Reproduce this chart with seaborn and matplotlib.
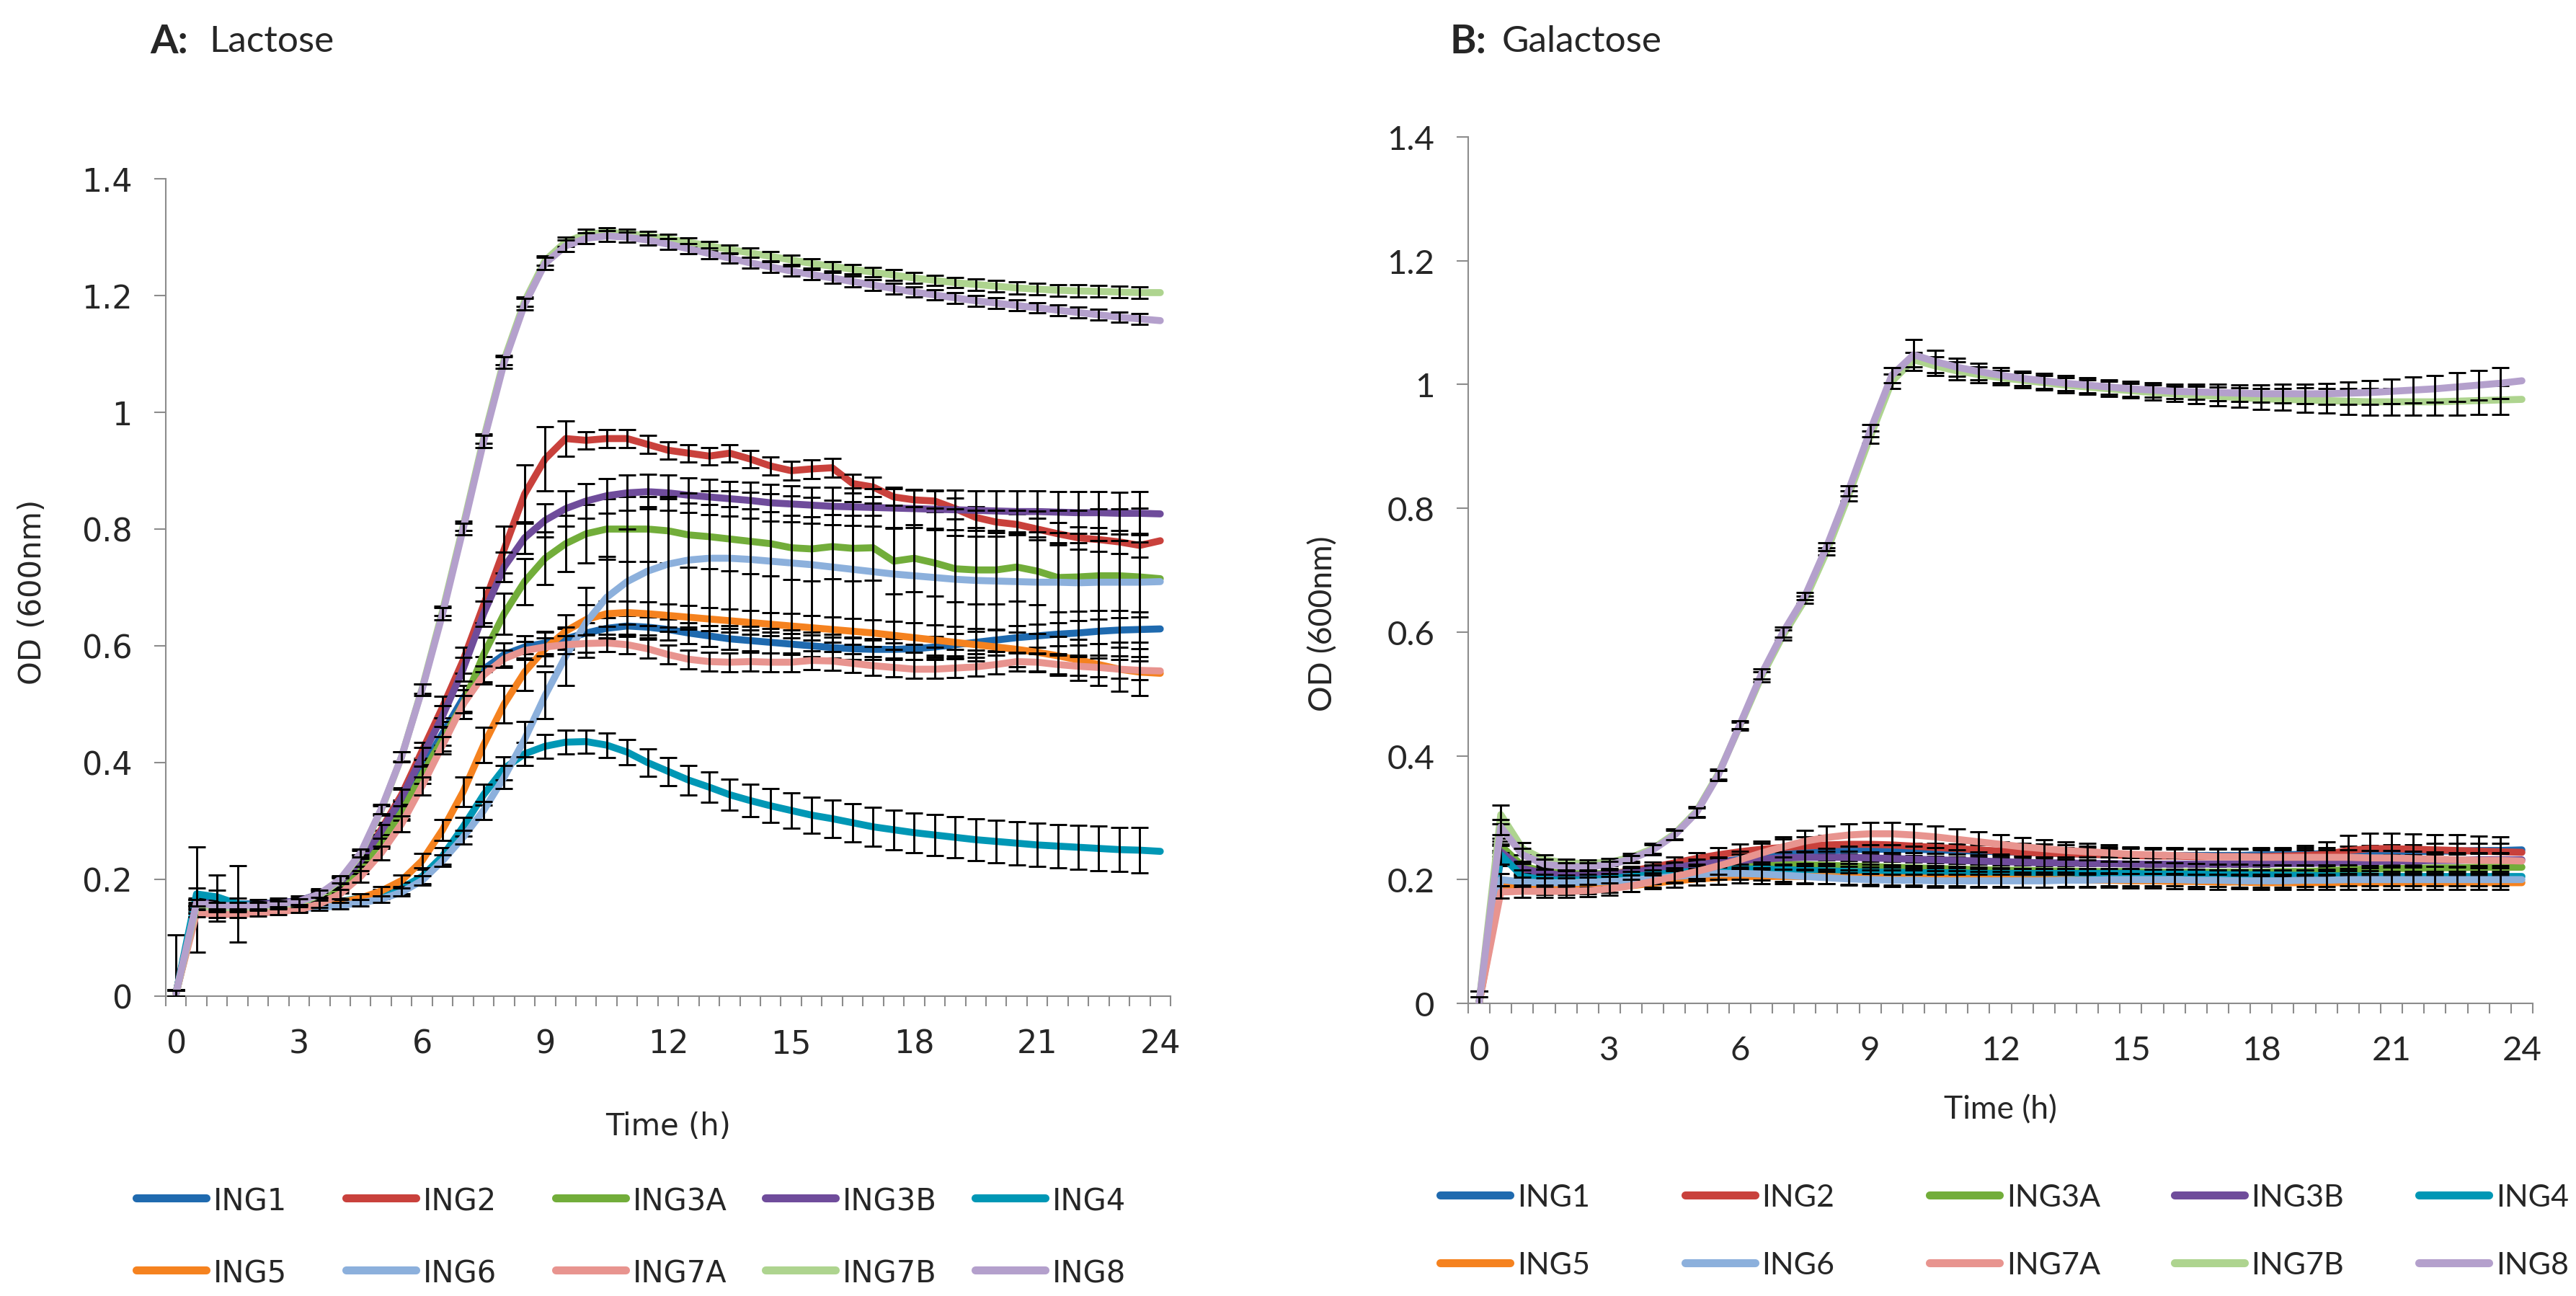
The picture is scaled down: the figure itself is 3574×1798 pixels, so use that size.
"""
Growth curves (OD600) of ING strains on lactose (A) and galactose (B).
Excel-style two-panel figure redrawn with seaborn / matplotlib.
"""
import numpy as np
import pandas as pd
import matplotlib
matplotlib.use("Agg")
import matplotlib.pyplot as plt
from matplotlib.lines import Line2D
import seaborn as sns

# ── data ──────────────────────────────────────────────────────────
HOURS = [0, 0.5, 1, 1.5, 2, 2.5, 3, 3.5, 4, 4.5, 5, 5.5, 6, 6.5, 7, 7.5,
         8, 8.5, 9, 9.5, 10, 10.5, 11, 11.5, 12, 12.5, 13, 13.5, 14, 14.5,
         15, 15.5, 16, 16.5, 17, 17.5, 18, 18.5, 19, 19.5, 20, 20.5, 21,
         21.5, 22, 22.5, 23, 23.5, 24]
STRAINS = ["ING1", "ING2", "ING3A", "ING3B", "ING4",
           "ING5", "ING6", "ING7A", "ING7B", "ING8"]
COLORS = ["#1F6AAF", "#C9413C", "#72AD3A", "#6F4C9B", "#0097B5",
          "#F5821F", "#8CB0DC", "#E8948F", "#AED48F", "#B4A0CC"]
X_TICKS = [0, 3, 6, 9, 12, 15, 18, 21, 24]
Y_TICKS = [0, 0.2, 0.4, 0.6, 0.8, 1.0, 1.2, 1.4]
Y_LABELS = ["0", "0.2", "0.4", "0.6", "0.8", "1", "1.2", "1.4"]

# A: lactose, mean OD
LAC_ING1 = [0.005, 0.165, 0.168, 0.158, 0.158, 0.160, 0.163, 0.175,
            0.195, 0.230, 0.270, 0.320, 0.390, 0.450, 0.510, 0.560,
            0.585, 0.598, 0.605, 0.612, 0.622, 0.630, 0.634, 0.632,
            0.628, 0.622, 0.617, 0.612, 0.609, 0.606, 0.603, 0.600,
            0.597, 0.595, 0.594, 0.594, 0.595, 0.598, 0.602, 0.606,
            0.610, 0.614, 0.617, 0.620, 0.622, 0.625, 0.627, 0.628,
            0.629]
LAC_ING2 = [0.005, 0.160, 0.155, 0.152, 0.153, 0.155, 0.158, 0.168,
            0.188, 0.232, 0.285, 0.345, 0.420, 0.495, 0.575, 0.670,
            0.765, 0.860, 0.920, 0.955, 0.952, 0.955, 0.955, 0.945,
            0.935, 0.930, 0.925, 0.930, 0.920, 0.908, 0.900, 0.903,
            0.905, 0.878, 0.872, 0.855, 0.850, 0.848, 0.835, 0.820,
            0.812, 0.808, 0.800, 0.792, 0.785, 0.782, 0.778, 0.772,
            0.780]
LAC_ING3A = [0.005, 0.150, 0.148, 0.148, 0.150, 0.152, 0.155, 0.165,
             0.185, 0.220, 0.265, 0.315, 0.380, 0.440, 0.500, 0.585,
             0.655, 0.710, 0.750, 0.775, 0.792, 0.800, 0.800, 0.800,
             0.797, 0.790, 0.787, 0.783, 0.779, 0.775, 0.768, 0.766,
             0.770, 0.767, 0.768, 0.745, 0.750, 0.742, 0.732, 0.730,
             0.730, 0.735, 0.728, 0.717, 0.718, 0.720, 0.720, 0.718,
             0.715]
LAC_ING3B = [0.005, 0.160, 0.158, 0.156, 0.157, 0.160, 0.163, 0.175,
             0.195, 0.232, 0.282, 0.340, 0.410, 0.480, 0.560, 0.655,
             0.735, 0.785, 0.815, 0.835, 0.848, 0.857, 0.862, 0.864,
             0.862, 0.858, 0.855, 0.852, 0.849, 0.845, 0.843, 0.841,
             0.839, 0.838, 0.837, 0.836, 0.835, 0.834, 0.833, 0.832,
             0.831, 0.830, 0.830, 0.829, 0.828, 0.828, 0.827, 0.827,
             0.826]
LAC_ING4 = [0.005, 0.175, 0.170, 0.158, 0.155, 0.155, 0.155, 0.158,
            0.162, 0.168, 0.175, 0.185, 0.205, 0.240, 0.290, 0.345,
            0.390, 0.415, 0.428, 0.435, 0.436, 0.430, 0.418, 0.400,
            0.385, 0.370, 0.358, 0.345, 0.335, 0.326, 0.318, 0.310,
            0.304, 0.297, 0.290, 0.285, 0.280, 0.276, 0.272, 0.268,
            0.265, 0.262, 0.259, 0.257, 0.255, 0.253, 0.251, 0.250,
            0.248]
LAC_ING5 = [0.005, 0.150, 0.148, 0.147, 0.148, 0.150, 0.152, 0.155,
            0.160, 0.168, 0.180, 0.198, 0.232, 0.285, 0.350, 0.430,
            0.500, 0.555, 0.595, 0.625, 0.645, 0.655, 0.657, 0.655,
            0.652, 0.649, 0.646, 0.643, 0.640, 0.637, 0.634, 0.631,
            0.628, 0.625, 0.622, 0.618, 0.614, 0.610, 0.606, 0.602,
            0.598, 0.594, 0.589, 0.583, 0.576, 0.568, 0.560, 0.555,
            0.553]
LAC_ING6 = [0.005, 0.148, 0.147, 0.146, 0.147, 0.148, 0.150, 0.152,
            0.155, 0.160, 0.166, 0.178, 0.198, 0.232, 0.272, 0.318,
            0.375, 0.440, 0.515, 0.582, 0.640, 0.683, 0.710, 0.728,
            0.740, 0.747, 0.750, 0.750, 0.748, 0.745, 0.742, 0.739,
            0.735, 0.731, 0.727, 0.723, 0.720, 0.717, 0.714, 0.712,
            0.711, 0.710, 0.709, 0.709, 0.708, 0.709, 0.709, 0.709,
            0.710]
LAC_ING7A = [0.005, 0.142, 0.140, 0.140, 0.142, 0.145, 0.148, 0.158,
             0.175, 0.205, 0.245, 0.295, 0.360, 0.430, 0.500, 0.550,
             0.578, 0.592, 0.598, 0.602, 0.604, 0.605, 0.602, 0.595,
             0.585, 0.577, 0.573, 0.572, 0.573, 0.572, 0.572, 0.575,
             0.574, 0.570, 0.566, 0.563, 0.560, 0.560, 0.562, 0.564,
             0.568, 0.573, 0.572, 0.568, 0.565, 0.563, 0.560, 0.558,
             0.557]
LAC_ING7B = [0.005, 0.155, 0.152, 0.152, 0.153, 0.156, 0.160, 0.173,
             0.198, 0.243, 0.318, 0.410, 0.527, 0.660, 0.805, 0.955,
             1.090, 1.190, 1.260, 1.292, 1.305, 1.308, 1.306, 1.302,
             1.297, 1.291, 1.285, 1.279, 1.273, 1.267, 1.261, 1.255,
             1.250, 1.245, 1.240, 1.235, 1.230, 1.226, 1.222, 1.219,
             1.216, 1.213, 1.211, 1.209, 1.208, 1.207, 1.206, 1.205,
             1.205]
LAC_ING8 = [0.005, 0.160, 0.155, 0.155, 0.155, 0.158, 0.162, 0.175,
            0.200, 0.245, 0.320, 0.410, 0.525, 0.655, 0.800, 0.950,
            1.085, 1.185, 1.255, 1.285, 1.298, 1.302, 1.300, 1.295,
            1.288, 1.280, 1.272, 1.264, 1.256, 1.249, 1.242, 1.236,
            1.230, 1.224, 1.218, 1.212, 1.206, 1.201, 1.196, 1.191,
            1.187, 1.183, 1.179, 1.175, 1.171, 1.167, 1.163, 1.160,
            1.157]

# A: lactose, standard deviation (0 .. 23.5 h; no bar at 24 h)
SD_LAC_ING1 = [0.100, 0.090, 0.040, 0.065, 0.008, 0.008, 0.008, 0.009,
               0.010, 0.012, 0.014, 0.016, 0.018, 0.020, 0.022, 0.022,
               0.020, 0.019, 0.018, 0.018, 0.018, 0.018, 0.018, 0.018,
               0.018, 0.018, 0.018, 0.018, 0.018, 0.018, 0.018, 0.018,
               0.018, 0.018, 0.018, 0.018, 0.018, 0.018, 0.019, 0.019,
               0.019, 0.020, 0.020, 0.020, 0.021, 0.021, 0.021, 0.022]
SD_LAC_ING2 = [0.006, 0.008, 0.006, 0.006, 0.005, 0.005, 0.005, 0.006,
               0.008, 0.010, 0.012, 0.012, 0.015, 0.018, 0.022, 0.030,
               0.040, 0.050, 0.055, 0.030, 0.015, 0.015, 0.015, 0.015,
               0.015, 0.015, 0.015, 0.015, 0.015, 0.015, 0.016, 0.016,
               0.016, 0.016, 0.017, 0.017, 0.017, 0.018, 0.018, 0.018,
               0.018, 0.018, 0.019, 0.019, 0.019, 0.020, 0.020, 0.020]
SD_LAC_ING3A = [0.006, 0.006, 0.006, 0.005, 0.005, 0.005, 0.005, 0.006,
                0.008, 0.010, 0.012, 0.014, 0.016, 0.020, 0.025, 0.030,
                0.035, 0.040, 0.045, 0.048, 0.050, 0.052, 0.055, 0.055,
                0.055, 0.055, 0.055, 0.055, 0.055, 0.055, 0.055, 0.055,
                0.055, 0.056, 0.056, 0.056, 0.057, 0.057, 0.057, 0.058,
                0.058, 0.058, 0.058, 0.059, 0.059, 0.060, 0.060, 0.060]
SD_LAC_ING3B = [0.006, 0.006, 0.006, 0.005, 0.005, 0.005, 0.005, 0.006,
                0.008, 0.010, 0.012, 0.014, 0.016, 0.018, 0.020, 0.022,
                0.025, 0.027, 0.028, 0.030, 0.030, 0.030, 0.030, 0.030,
                0.030, 0.030, 0.030, 0.030, 0.031, 0.031, 0.031, 0.031,
                0.032, 0.032, 0.032, 0.033, 0.033, 0.033, 0.034, 0.034,
                0.034, 0.035, 0.035, 0.035, 0.036, 0.036, 0.036, 0.037]
SD_LAC_ING4 = [0.006, 0.010, 0.012, 0.010, 0.006, 0.006, 0.006, 0.006,
               0.006, 0.007, 0.008, 0.010, 0.012, 0.014, 0.016, 0.018,
               0.020, 0.020, 0.020, 0.020, 0.020, 0.021, 0.022, 0.023,
               0.024, 0.025, 0.026, 0.027, 0.028, 0.029, 0.030, 0.031,
               0.032, 0.033, 0.033, 0.034, 0.034, 0.035, 0.035, 0.036,
               0.036, 0.037, 0.037, 0.037, 0.038, 0.038, 0.038, 0.039]
SD_LAC_ING5 = [0.005, 0.008, 0.006, 0.005, 0.005, 0.005, 0.005, 0.005,
               0.006, 0.007, 0.008, 0.010, 0.012, 0.018, 0.025, 0.030,
               0.032, 0.032, 0.030, 0.028, 0.025, 0.022, 0.020, 0.020,
               0.020, 0.020, 0.020, 0.020, 0.020, 0.020, 0.021, 0.021,
               0.022, 0.022, 0.023, 0.024, 0.025, 0.026, 0.027, 0.028,
               0.029, 0.030, 0.032, 0.033, 0.035, 0.036, 0.038, 0.040]
SD_LAC_ING6 = [0.005, 0.006, 0.005, 0.005, 0.005, 0.005, 0.005, 0.005,
               0.005, 0.006, 0.006, 0.007, 0.008, 0.010, 0.012, 0.015,
               0.020, 0.030, 0.040, 0.050, 0.060, 0.070, 0.090, 0.110,
               0.115, 0.115, 0.115, 0.115, 0.115, 0.115, 0.115, 0.115,
               0.115, 0.116, 0.117, 0.118, 0.118, 0.119, 0.120, 0.120,
               0.121, 0.122, 0.122, 0.123, 0.124, 0.125, 0.126, 0.127]
SD_LAC_ING7A = [0.005, 0.006, 0.005, 0.005, 0.005, 0.005, 0.005, 0.006,
                0.008, 0.010, 0.012, 0.014, 0.015, 0.015, 0.015, 0.015,
                0.015, 0.015, 0.015, 0.015, 0.015, 0.015, 0.016, 0.016,
                0.016, 0.016, 0.016, 0.016, 0.016, 0.016, 0.016, 0.016,
                0.016, 0.016, 0.016, 0.016, 0.016, 0.016, 0.016, 0.016,
                0.016, 0.016, 0.016, 0.016, 0.016, 0.016, 0.016, 0.016]
SD_LAC_ING7B = [0.005, 0.005, 0.005, 0.005, 0.005, 0.005, 0.005, 0.005,
                0.006, 0.007, 0.008, 0.008, 0.008, 0.008, 0.008, 0.008,
                0.008, 0.008, 0.008, 0.008, 0.008, 0.008, 0.008, 0.008,
                0.008, 0.008, 0.008, 0.008, 0.008, 0.008, 0.008, 0.008,
                0.008, 0.008, 0.008, 0.009, 0.009, 0.009, 0.009, 0.010,
                0.010, 0.010, 0.010, 0.010, 0.010, 0.010, 0.010, 0.010]
SD_LAC_ING8 = [0.005, 0.006, 0.005, 0.005, 0.005, 0.005, 0.005, 0.006,
               0.006, 0.007, 0.008, 0.009, 0.010, 0.010, 0.010, 0.010,
               0.010, 0.010, 0.010, 0.010, 0.009, 0.009, 0.009, 0.009,
               0.009, 0.009, 0.009, 0.009, 0.009, 0.009, 0.009, 0.009,
               0.009, 0.009, 0.009, 0.009, 0.009, 0.009, 0.009, 0.009,
               0.009, 0.009, 0.009, 0.009, 0.009, 0.009, 0.009, 0.009]

# B: galactose, mean OD
GAL_ING1 = [0.000, 0.235, 0.215, 0.208, 0.205, 0.204, 0.205, 0.208,
            0.213, 0.218, 0.223, 0.228, 0.233, 0.237, 0.241, 0.244,
            0.246, 0.248, 0.249, 0.249, 0.249, 0.248, 0.247, 0.246,
            0.245, 0.244, 0.243, 0.242, 0.241, 0.240, 0.240, 0.239,
            0.239, 0.239, 0.239, 0.239, 0.240, 0.240, 0.241, 0.242,
            0.243, 0.244, 0.245, 0.245, 0.246, 0.246, 0.247, 0.247,
            0.248]
GAL_ING2 = [0.000, 0.250, 0.215, 0.207, 0.205, 0.206, 0.209, 0.214,
            0.220, 0.227, 0.234, 0.240, 0.245, 0.249, 0.252, 0.254,
            0.256, 0.257, 0.257, 0.256, 0.254, 0.252, 0.250, 0.248,
            0.246, 0.244, 0.243, 0.242, 0.241, 0.240, 0.239, 0.238,
            0.238, 0.237, 0.237, 0.237, 0.237, 0.238, 0.239, 0.241,
            0.247, 0.250, 0.250, 0.249, 0.248, 0.247, 0.246, 0.245,
            0.244]
GAL_ING3A = [0.000, 0.255, 0.222, 0.213, 0.210, 0.209, 0.210, 0.212,
             0.215, 0.218, 0.221, 0.223, 0.224, 0.225, 0.225, 0.224,
             0.223, 0.222, 0.221, 0.220, 0.219, 0.218, 0.217, 0.216,
             0.215, 0.215, 0.214, 0.214, 0.213, 0.213, 0.213, 0.212,
             0.212, 0.212, 0.212, 0.212, 0.212, 0.213, 0.213, 0.214,
             0.216, 0.217, 0.218, 0.218, 0.219, 0.219, 0.220, 0.220,
             0.220]
GAL_ING3B = [0.000, 0.245, 0.218, 0.210, 0.207, 0.207, 0.209, 0.212,
             0.216, 0.220, 0.224, 0.228, 0.231, 0.233, 0.235, 0.236,
             0.236, 0.236, 0.235, 0.234, 0.233, 0.232, 0.231, 0.230,
             0.229, 0.228, 0.227, 0.227, 0.226, 0.226, 0.225, 0.225,
             0.225, 0.225, 0.225, 0.225, 0.225, 0.226, 0.226, 0.227,
             0.228, 0.229, 0.230, 0.230, 0.231, 0.231, 0.232, 0.232,
             0.232]
GAL_ING4 = [0.000, 0.240, 0.205, 0.200, 0.199, 0.200, 0.202, 0.205,
            0.208, 0.211, 0.214, 0.216, 0.217, 0.217, 0.216, 0.215,
            0.214, 0.213, 0.212, 0.212, 0.211, 0.211, 0.211, 0.210,
            0.210, 0.210, 0.210, 0.210, 0.210, 0.210, 0.210, 0.209,
            0.209, 0.209, 0.208, 0.208, 0.208, 0.207, 0.207, 0.206,
            0.206, 0.206, 0.205, 0.205, 0.205, 0.205, 0.205, 0.205,
            0.205]
GAL_ING5 = [0.000, 0.190, 0.186, 0.184, 0.184, 0.185, 0.187, 0.190,
            0.194, 0.198, 0.201, 0.203, 0.205, 0.205, 0.205, 0.205,
            0.205, 0.204, 0.204, 0.203, 0.203, 0.202, 0.202, 0.201,
            0.201, 0.200, 0.200, 0.200, 0.199, 0.199, 0.198, 0.198,
            0.197, 0.197, 0.196, 0.196, 0.195, 0.195, 0.195, 0.195,
            0.195, 0.195, 0.195, 0.195, 0.195, 0.195, 0.195, 0.195,
            0.195]
GAL_ING6 = [0.000, 0.200, 0.196, 0.195, 0.195, 0.196, 0.197, 0.199,
            0.202, 0.205, 0.208, 0.210, 0.210, 0.209, 0.207, 0.205,
            0.203, 0.201, 0.200, 0.199, 0.199, 0.198, 0.198, 0.198,
            0.198, 0.198, 0.198, 0.199, 0.199, 0.200, 0.200, 0.200,
            0.200, 0.199, 0.199, 0.198, 0.198, 0.198, 0.199, 0.199,
            0.200, 0.200, 0.200, 0.200, 0.200, 0.200, 0.200, 0.200,
            0.200]
GAL_ING7A = [0.000, 0.180, 0.181, 0.181, 0.181, 0.182, 0.185, 0.190,
             0.197, 0.205, 0.213, 0.222, 0.232, 0.243, 0.253, 0.262,
             0.268, 0.272, 0.274, 0.274, 0.272, 0.269, 0.265, 0.261,
             0.257, 0.253, 0.250, 0.247, 0.245, 0.243, 0.241, 0.240,
             0.239, 0.238, 0.237, 0.237, 0.236, 0.236, 0.236, 0.236,
             0.236, 0.235, 0.235, 0.234, 0.233, 0.232, 0.231, 0.231,
             0.230]
GAL_ING7B = [0.000, 0.305, 0.250, 0.232, 0.227, 0.226, 0.228, 0.236,
             0.250, 0.274, 0.310, 0.370, 0.448, 0.528, 0.595, 0.652,
             0.730, 0.820, 0.915, 1.005, 1.040, 1.030, 1.022, 1.016,
             1.011, 1.007, 1.003, 0.999, 0.996, 0.993, 0.990, 0.987,
             0.985, 0.983, 0.981, 0.979, 0.977, 0.976, 0.975, 0.974,
             0.973, 0.972, 0.972, 0.972, 0.972, 0.973, 0.974, 0.975,
             0.976]
GAL_ING8 = [0.000, 0.285, 0.240, 0.225, 0.221, 0.221, 0.224, 0.233,
            0.248, 0.272, 0.308, 0.368, 0.450, 0.532, 0.600, 0.658,
            0.738, 0.828, 0.925, 1.015, 1.048, 1.037, 1.028, 1.021,
            1.015, 1.010, 1.006, 1.002, 0.999, 0.996, 0.993, 0.991,
            0.989, 0.988, 0.987, 0.986, 0.985, 0.985, 0.985, 0.985,
            0.986, 0.987, 0.989, 0.991, 0.993, 0.996, 0.999, 1.002,
            1.006]

# B: galactose, standard deviation (0 .. 23.5 h)
SD_GAL_ING1 = [0.020, 0.012, 0.008, 0.006, 0.006, 0.006, 0.006, 0.006,
               0.007, 0.007, 0.008, 0.008, 0.008, 0.009, 0.009, 0.009,
               0.010, 0.010, 0.010, 0.010, 0.010, 0.010, 0.010, 0.010,
               0.010, 0.010, 0.010, 0.010, 0.010, 0.010, 0.010, 0.010,
               0.010, 0.010, 0.010, 0.010, 0.010, 0.010, 0.010, 0.010,
               0.011, 0.011, 0.011, 0.011, 0.012, 0.012, 0.012, 0.012]
SD_GAL_ING2 = [0.020, 0.012, 0.008, 0.006, 0.006, 0.006, 0.006, 0.007,
               0.008, 0.009, 0.010, 0.011, 0.012, 0.013, 0.014, 0.015,
               0.015, 0.016, 0.016, 0.016, 0.016, 0.016, 0.015, 0.015,
               0.015, 0.014, 0.014, 0.014, 0.013, 0.013, 0.013, 0.013,
               0.013, 0.013, 0.013, 0.013, 0.014, 0.014, 0.016, 0.020,
               0.024, 0.025, 0.025, 0.025, 0.025, 0.025, 0.024, 0.024]
SD_GAL_ING3A = [0.020, 0.012, 0.008, 0.007, 0.007, 0.007, 0.007, 0.007,
                0.008, 0.008, 0.008, 0.009, 0.009, 0.009, 0.009, 0.009,
                0.009, 0.009, 0.009, 0.009, 0.009, 0.009, 0.009, 0.009,
                0.009, 0.009, 0.009, 0.009, 0.009, 0.009, 0.009, 0.009,
                0.009, 0.009, 0.009, 0.009, 0.009, 0.009, 0.010, 0.010,
                0.010, 0.010, 0.010, 0.010, 0.010, 0.010, 0.010, 0.010]
SD_GAL_ING3B = [0.020, 0.012, 0.008, 0.007, 0.007, 0.007, 0.007, 0.007,
                0.008, 0.008, 0.009, 0.009, 0.010, 0.010, 0.010, 0.010,
                0.010, 0.010, 0.010, 0.010, 0.010, 0.010, 0.010, 0.010,
                0.010, 0.010, 0.010, 0.010, 0.010, 0.010, 0.010, 0.010,
                0.010, 0.010, 0.010, 0.010, 0.010, 0.010, 0.010, 0.010,
                0.010, 0.010, 0.010, 0.010, 0.010, 0.010, 0.010, 0.010]
SD_GAL_ING4 = [0.020, 0.015, 0.010, 0.008, 0.008, 0.008, 0.008, 0.008,
               0.008, 0.008, 0.008, 0.008, 0.008, 0.008, 0.008, 0.008,
               0.008, 0.008, 0.008, 0.008, 0.008, 0.008, 0.008, 0.008,
               0.008, 0.008, 0.008, 0.008, 0.008, 0.008, 0.008, 0.008,
               0.008, 0.008, 0.008, 0.008, 0.008, 0.008, 0.008, 0.008,
               0.008, 0.008, 0.008, 0.008, 0.008, 0.008, 0.008, 0.008]
SD_GAL_ING5 = [0.020, 0.010, 0.008, 0.008, 0.008, 0.008, 0.008, 0.009,
               0.009, 0.010, 0.010, 0.011, 0.011, 0.012, 0.012, 0.012,
               0.012, 0.012, 0.012, 0.012, 0.012, 0.012, 0.012, 0.012,
               0.012, 0.012, 0.012, 0.012, 0.012, 0.012, 0.012, 0.012,
               0.012, 0.012, 0.012, 0.011, 0.011, 0.011, 0.011, 0.011,
               0.011, 0.011, 0.011, 0.011, 0.011, 0.011, 0.011, 0.011]
SD_GAL_ING6 = [0.020, 0.010, 0.008, 0.008, 0.008, 0.008, 0.008, 0.008,
               0.009, 0.009, 0.010, 0.010, 0.010, 0.010, 0.010, 0.010,
               0.010, 0.010, 0.010, 0.010, 0.010, 0.010, 0.010, 0.010,
               0.010, 0.010, 0.010, 0.010, 0.010, 0.010, 0.010, 0.010,
               0.010, 0.010, 0.010, 0.010, 0.010, 0.010, 0.010, 0.010,
               0.010, 0.010, 0.010, 0.010, 0.010, 0.010, 0.010, 0.010]
SD_GAL_ING7A = [0.020, 0.010, 0.010, 0.010, 0.010, 0.010, 0.010, 0.010,
                0.010, 0.011, 0.012, 0.013, 0.014, 0.015, 0.016, 0.017,
                0.018, 0.018, 0.018, 0.018, 0.018, 0.017, 0.017, 0.016,
                0.016, 0.015, 0.014, 0.014, 0.013, 0.013, 0.012, 0.012,
                0.012, 0.012, 0.012, 0.012, 0.012, 0.012, 0.012, 0.012,
                0.012, 0.012, 0.012, 0.012, 0.012, 0.012, 0.012, 0.012]
SD_GAL_ING7B = [0.010, 0.015, 0.010, 0.008, 0.006, 0.006, 0.006, 0.006,
                0.008, 0.008, 0.008, 0.008, 0.006, 0.008, 0.008, 0.006,
                0.006, 0.008, 0.010, 0.012, 0.012, 0.015, 0.015, 0.013,
                0.012, 0.012, 0.012, 0.012, 0.012, 0.012, 0.012, 0.012,
                0.012, 0.014, 0.015, 0.016, 0.017, 0.018, 0.020, 0.020,
                0.021, 0.022, 0.022, 0.022, 0.022, 0.023, 0.023, 0.023]
SD_GAL_ING8 = [0.010, 0.012, 0.010, 0.008, 0.006, 0.006, 0.006, 0.006,
               0.008, 0.008, 0.008, 0.008, 0.006, 0.008, 0.008, 0.006,
               0.006, 0.008, 0.010, 0.012, 0.025, 0.018, 0.015, 0.013,
               0.012, 0.012, 0.012, 0.012, 0.012, 0.012, 0.012, 0.012,
               0.012, 0.012, 0.013, 0.013, 0.014, 0.015, 0.016, 0.017,
               0.018, 0.019, 0.020, 0.021, 0.022, 0.023, 0.024, 0.025]

LACTOSE = [LAC_ING1, LAC_ING2, LAC_ING3A, LAC_ING3B, LAC_ING4,
           LAC_ING5, LAC_ING6, LAC_ING7A, LAC_ING7B, LAC_ING8]
LACTOSE_SD = [SD_LAC_ING1, SD_LAC_ING2, SD_LAC_ING3A, SD_LAC_ING3B, SD_LAC_ING4,
              SD_LAC_ING5, SD_LAC_ING6, SD_LAC_ING7A, SD_LAC_ING7B, SD_LAC_ING8]
GALACTOSE = [GAL_ING1, GAL_ING2, GAL_ING3A, GAL_ING3B, GAL_ING4,
             GAL_ING5, GAL_ING6, GAL_ING7A, GAL_ING7B, GAL_ING8]
GALACTOSE_SD = [SD_GAL_ING1, SD_GAL_ING2, SD_GAL_ING3A, SD_GAL_ING3B, SD_GAL_ING4,
                SD_GAL_ING5, SD_GAL_ING6, SD_GAL_ING7A, SD_GAL_ING7B, SD_GAL_ING8]


def tidy(means, sds):
    """long table: one row per strain x time point"""
    rows = []
    for name, m, s in zip(STRAINS, means, sds):
        assert len(m) == len(HOURS) and len(s) == len(HOURS) - 1, name
        s_full = list(s) + [np.nan]          # Excel shows no bar at 24 h
        rows.append(pd.DataFrame({"hour": HOURS, "od": m, "sd": s_full,
                                  "strain": name}))
    return pd.concat(rows, ignore_index=True)


lac = tidy(LACTOSE, LACTOSE_SD)
gal = tidy(GALACTOSE, GALACTOSE_SD)

# ── figure ────────────────────────────────────────────────────────
W, H = 3574, 1799
sns.set_style("white")
plt.rcParams["font.family"] = ["DejaVu Sans"]
AXIS_GREY = "#8C8C8C"

fig = plt.figure(figsize=(W / 100, H / 100), dpi=100)
axA = fig.add_axes([230 / W, 1 - 1383 / H, 1394 / W, 1134 / H])
axB = fig.add_axes([2037 / W, 1 - 1393 / H, 1477 / W, 1202 / H])


def draw_panel(ax, df, family, tick_size, label_size, xlab_y, ylab_xy):
    for i, (name, col) in enumerate(zip(STRAINS, COLORS)):
        sub = df[df["strain"] == name]
        sns.lineplot(data=sub, x="hour", y="od", color=col, linewidth=7,
                     estimator=None, sort=False, ax=ax, legend=False,
                     solid_capstyle="round", zorder=3 + i * 0.1)
        eb = sub.dropna(subset=["sd"])
        ax.errorbar(eb["hour"], eb["od"], yerr=eb["sd"], fmt="none",
                    ecolor="black", elinewidth=2.1, capsize=8.5, capthick=2.1,
                    zorder=3.05 + i * 0.1)

    ax.set_xlim(-0.25, 24.25)
    ax.set_ylim(0, 1.4)
    ax.set_xticks(X_TICKS)
    ax.set_xticklabels([str(t) for t in X_TICKS])
    ax.set_xticks(np.arange(-0.25, 24.3, 0.5), minor=True)
    ax.set_yticks(Y_TICKS)
    ax.set_yticklabels(Y_LABELS)
    ax.tick_params(axis="x", which="major", length=0, pad=32,
                   labelsize=tick_size)
    ax.tick_params(axis="x", which="minor", length=10, width=1.5,
                   color=AXIS_GREY, direction="out", bottom=True)
    ax.tick_params(axis="y", which="major", length=11.5, width=1.5,
                   color=AXIS_GREY, direction="out", pad=22,
                   labelsize=tick_size, left=True)
    for lab in ax.get_xticklabels() + ax.get_yticklabels():
        lab.set_fontfamily(family)
    for side in ["top", "right"]:
        ax.spines[side].set_visible(False)
    for side in ["left", "bottom"]:
        ax.spines[side].set_color(AXIS_GREY)
        ax.spines[side].set_linewidth(1.5)
    ax.grid(False)

    ax.set_xlabel("Time (h)", fontsize=label_size, family=family)
    ax.xaxis.set_label_coords(0.5, xlab_y)
    ax.set_ylabel("OD (600nm)", fontsize=label_size, family=family)
    ax.yaxis.set_label_coords(*ylab_xy)


draw_panel(axA, lac, "DejaVu Sans", 32, 30, -0.14, (-0.118, 0.495))
draw_panel(axB, gal, "Lato", 34, 32, -0.105, (-0.122, 0.439))

# panel titles
for x_bold, x_rest, letter, sugar in [(208, 290, "A:", "Lactose"),
                                      (2012, 2084, "B:", "Galactose")]:
    fig.text(x_bold / W, 1 - 54 / H, letter, family="Lato",
             fontweight="bold", fontsize=40, va="center_baseline")
    fig.text(x_rest / W, 1 - 54 / H, sugar, family="Lato",
             fontsize=37, va="center_baseline")


# legends below each panel (row-wise, 5 columns, Excel style)
def draw_legend(x_start, col_step, rows_y, family, size):
    for i, (name, col) in enumerate(zip(STRAINS, COLORS)):
        r, c = divmod(i, 5)
        x0 = x_start + c * col_step
        y = 1 - rows_y[r] / H
        fig.add_artist(Line2D([(x0 + 5) / W, (x0 + 102) / W], [y, y],
                              transform=fig.transFigure, color=col, lw=8,
                              solid_capstyle="round"))
        fig.text((x0 + 112) / W, y, name, family=family, fontsize=size,
                 va="center_baseline", ha="left")


draw_legend(184, 291, [1663, 1763], "DejaVu Sans", 30)
draw_legend(1993, 339.5, [1659, 1753], "Lato", 31)

fig.savefig("out.png", dpi=100)
plt.close(fig)
print("saved out.png")
